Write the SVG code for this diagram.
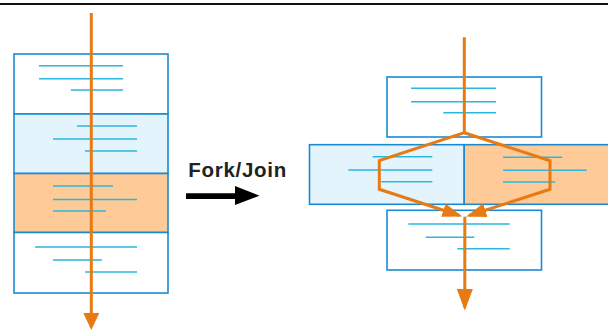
<svg xmlns="http://www.w3.org/2000/svg" width="608" height="331" viewBox="0 0 608 331">
<defs>
<style>
.box{stroke:#1b8ad2;stroke-width:1.6}
.w{fill:#ffffff}
.b{fill:#e4f4fc}
.o{fill:#fdca98}
.t{stroke:#2bb7df;stroke-width:1.6;fill:none}
.flow{stroke:#e87a14;stroke-width:3;fill:none;stroke-linejoin:miter}
.lbl{font-family:"Liberation Sans",Arial,sans-serif;font-weight:bold;font-size:20.5px;fill:#222}
</style>
<marker id="hA" markerUnits="userSpaceOnUse" markerWidth="18" markerHeight="16" refX="14" refY="8" orient="auto" viewBox="0 0 18 16">
<path d="M0,0 L17,8 L0,16 z" fill="#e87a14"/>
</marker>
<marker id="hB" markerUnits="userSpaceOnUse" markerWidth="23" markerHeight="17" refX="19" refY="8.25" orient="auto" viewBox="0 0 23 17">
<path d="M0,0 L22,8.25 L0,16.5 z" fill="#e87a14"/>
</marker>
<marker id="hC" markerUnits="userSpaceOnUse" markerWidth="22" markerHeight="15" refX="17" refY="7" orient="auto" viewBox="0 0 22 15">
<path d="M0,0 L20,7 L0,14 z" fill="#e87a14"/>
</marker>
</defs>
<rect x="0" y="0" width="608" height="331" fill="#ffffff"/>
<line x1="0" y1="4" x2="608" y2="4" stroke="#111" stroke-width="2"/>

<g id="seq1">
<rect class="box w" x="14" y="54" width="154" height="60"/>
<path class="t" d="M39,65.7H123M39,78.7H123M71,90H123"/>
</g>
<g id="seq2">
<rect class="box b" x="14" y="114" width="154" height="59.5"/>
<path class="t" d="M77,126H137M53,139H137M85,151H137"/>
</g>
<g id="seq3">
<rect class="box o" x="14" y="173.5" width="154" height="59"/>
<path class="t" d="M53,186H113M53,199.5H137M53,211H106"/>
</g>
<g id="seq4">
<rect class="box w" x="14" y="232.5" width="154" height="60.5"/>
<path class="t" d="M35,247H137M53,260H102M85,272H137"/>
</g>

<g id="label">
<text class="lbl" x="188.3" y="177" textLength="98" lengthAdjust="spacing">Fork/Join</text>
<path d="M186,193.2H235V186L259.5,195.7L235,205V199H186z" fill="#000"/>
</g>

<g id="par-top">
<rect class="box w" x="387" y="77" width="154.5" height="60"/>
<path class="t" d="M411,88.3H496M411,101.7H496M443.3,112.7H496"/>
</g>
<g id="par-left">
<rect class="box b" x="309.5" y="144.7" width="154.7" height="59.6"/>
<path class="t" d="M372.7,156.7H432.3M348.3,170H432.3M381.3,181.7H432.3"/>
</g>
<g id="par-right">
<rect class="box o" x="464.2" y="144.7" width="160" height="59.6"/>
<path class="t" d="M503,157.3H562.3M503,170.3H586.7M503,182H555.3"/>
</g>
<g id="par-bottom">
<rect class="box w" x="387" y="210.3" width="154.5" height="59.7"/>
<path class="t" d="M408.3,224H509.7M425.7,237.3H474.3M457.3,248.7H509.7"/>
</g>

<g id="connectors">
<path class="flow" d="M91.3,13V327" marker-end="url(#hA)"/>
<path class="flow" d="M464.3,37.3V132.7L379.3,160.7V189.3L459.5,215.5" marker-end="url(#hC)"/>
<path class="flow" d="M464.3,132.7L550,160.7V189.3L469.1,215.5" marker-end="url(#hC)"/>
<path class="flow" d="M464.8,216.7V307.5" marker-end="url(#hB)"/>
</g>
</svg>
